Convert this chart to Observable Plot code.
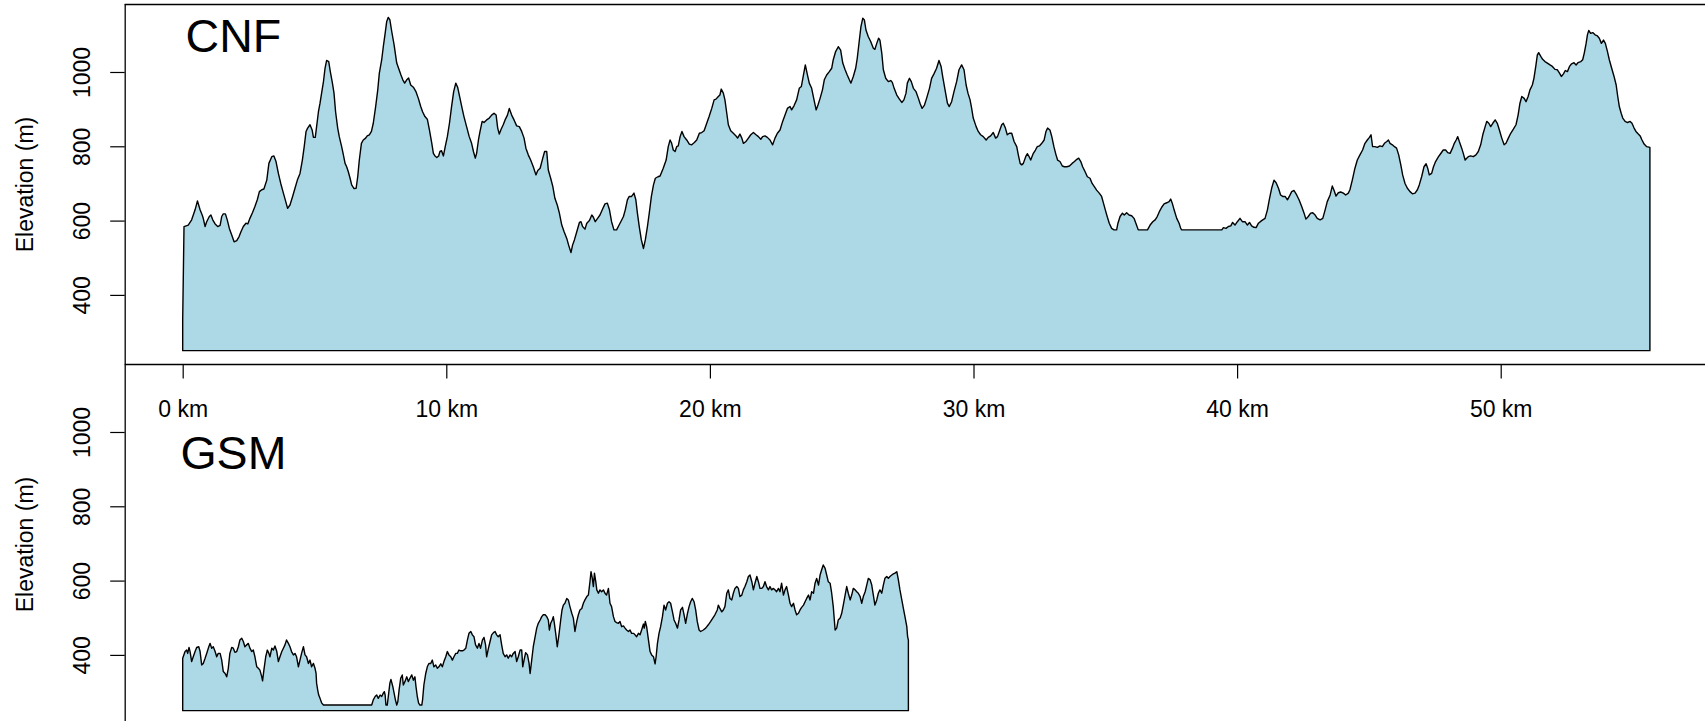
<!DOCTYPE html>
<html>
<head>
<meta charset="utf-8">
<script src="https://cdn.jsdelivr.net/npm/d3@7"></script>
<script src="https://cdn.jsdelivr.net/npm/@observablehq/plot@0.6"></script>
<style>
  html, body { margin: 0; padding: 0; background: #fff; overflow: hidden; }
  #chart { position: relative; width: 1705px; height: 721px; overflow: hidden; }
  #chart svg { position: absolute; left: 0; top: 0; }
</style>
</head>
<body>
<div id="chart"></div>
<script>
// Elevation profiles of two routes: distance along the route (km) and elevation (m)
const cnfKm = [
  0.00,0.05,0.21,0.34,0.47,0.56,0.66,0.75,0.78,0.85,0.91,1.01,1.07,1.14,1.23,1.33,1.42,1.48,1.54,1.62,
  1.69,1.77,1.86,1.95,2.05,2.14,2.21,2.30,2.40,2.47,2.55,2.65,2.74,2.83,2.91,3.00,3.08,3.19,3.27,3.38,
  3.46,3.54,3.63,3.72,3.82,3.91,3.98,4.07,4.17,4.26,4.35,4.45,4.54,4.61,4.68,4.74,4.83,4.91,4.96,5.03,
  5.08,5.15,5.21,5.27,5.34,5.40,5.46,5.54,5.60,5.68,5.74,5.80,5.88,5.94,6.03,6.09,6.16,6.22,6.28,6.35,
  6.41,6.50,6.58,6.64,6.70,6.78,6.85,6.94,7.00,7.08,7.16,7.23,7.32,7.40,7.46,7.55,7.61,7.68,7.74,7.80,
  7.86,7.93,8.02,8.12,8.21,8.28,8.35,8.42,8.50,8.57,8.65,8.75,8.85,8.94,9.03,9.10,9.19,9.28,9.36,9.45,
  9.51,9.57,9.64,9.71,9.76,9.82,9.89,9.96,10.04,10.12,10.20,10.28,10.36,10.43,10.52,10.60,10.67,10.77,10.87,10.96,
  11.03,11.10,11.15,11.22,11.28,11.36,11.43,11.53,11.63,11.72,11.81,11.89,11.95,12.01,12.08,12.16,12.23,12.32,12.39,12.48,
  12.57,12.67,12.77,12.86,12.95,13.02,13.11,13.20,13.30,13.40,13.47,13.56,13.66,13.73,13.81,13.87,13.96,14.04,14.12,14.21,
  14.29,14.38,14.47,14.57,14.64,14.73,14.79,14.86,14.95,15.05,15.11,15.17,15.26,15.33,15.43,15.52,15.58,15.65,15.74,15.83,
  15.93,16.02,16.11,16.19,16.27,16.36,16.46,16.54,16.62,16.72,16.79,16.87,16.94,17.03,17.12,17.19,17.25,17.32,17.40,17.48,
  17.55,17.63,17.70,17.78,17.86,17.93,18.03,18.11,18.23,18.34,18.42,18.49,18.55,18.61,18.68,18.74,18.80,18.87,18.94,19.02,
  19.12,19.22,19.31,19.41,19.50,19.60,19.69,19.78,19.88,19.97,20.07,20.16,20.23,20.32,20.38,20.43,20.51,20.57,20.64,20.70,
  20.79,20.89,20.99,21.05,21.14,21.21,21.27,21.37,21.46,21.55,21.65,21.75,21.84,21.93,22.00,22.09,22.18,22.28,22.38,22.47,
  22.56,22.66,22.76,22.85,22.94,23.04,23.10,23.19,23.29,23.39,23.47,23.55,23.62,23.70,23.77,23.86,23.95,24.03,24.10,24.18,
  24.27,24.34,24.43,24.53,24.62,24.68,24.77,24.87,24.96,25.04,25.13,25.21,25.29,25.35,25.44,25.53,25.59,25.67,25.73,25.80,
  25.86,25.92,26.01,26.10,26.20,26.26,26.33,26.40,26.45,26.52,26.58,26.67,26.77,26.86,26.92,26.99,27.09,27.19,27.28,27.36,
  27.44,27.49,27.57,27.64,27.72,27.82,27.91,27.97,28.05,28.14,28.22,28.33,28.41,28.50,28.60,28.69,28.77,28.83,28.92,29.01,
  29.08,29.17,29.26,29.36,29.45,29.55,29.64,29.72,29.79,29.87,29.93,29.99,30.10,30.18,30.27,30.37,30.48,30.56,30.65,30.75,
  30.84,30.91,30.98,31.07,31.13,31.21,31.28,31.36,31.45,31.54,31.64,31.70,31.77,31.83,31.89,31.98,32.04,32.11,32.17,32.27,
  32.35,32.42,32.50,32.59,32.68,32.75,32.81,32.90,32.97,33.05,33.13,33.19,33.28,33.37,33.45,33.54,33.64,33.74,33.83,33.92,
  33.99,34.07,34.14,34.23,34.32,34.42,34.50,34.59,34.67,34.77,34.86,34.93,35.00,35.08,35.15,35.24,35.33,35.43,35.48,35.56,
  35.65,35.72,35.81,35.90,36.00,36.09,36.17,36.25,36.51,36.60,36.70,36.80,36.89,36.97,37.05,37.14,37.23,37.33,37.42,37.48,
  37.54,37.61,37.71,37.80,37.86,37.90,39.42,39.48,39.58,39.67,39.76,39.83,39.92,40.01,40.11,40.20,40.30,40.39,40.47,40.55,
  40.64,40.72,40.81,40.93,41.06,41.15,41.22,41.31,41.40,41.48,41.57,41.65,41.73,41.82,41.91,41.98,42.07,42.16,42.26,42.35,
  42.45,42.54,42.61,42.70,42.79,42.87,42.96,43.04,43.15,43.25,43.34,43.42,43.53,43.61,43.68,43.75,43.84,43.93,44.03,44.12,
  44.22,44.28,44.37,44.47,44.56,44.66,44.76,44.85,44.94,45.02,45.08,45.14,45.23,45.32,45.42,45.51,45.59,45.68,45.74,45.80,
  45.89,45.97,46.05,46.13,46.21,46.28,46.37,46.46,46.56,46.65,46.75,46.84,46.91,47.00,47.09,47.17,47.23,47.29,47.38,47.45,
  47.53,47.64,47.72,47.82,47.91,47.99,48.08,48.17,48.24,48.31,48.37,48.43,48.52,48.58,48.65,48.71,48.77,48.86,48.96,49.06,
  49.15,49.24,49.32,49.41,49.47,49.55,49.62,49.70,49.79,49.87,49.95,50.04,50.13,50.20,50.29,50.38,50.48,50.58,50.66,50.73,
  50.80,50.89,50.96,51.04,51.11,51.20,51.26,51.33,51.39,51.44,51.52,51.59,51.68,51.77,51.87,51.96,52.06,52.15,52.23,52.30,
  52.38,52.45,52.53,52.61,52.69,52.78,52.86,52.93,53.04,53.11,53.17,53.24,53.29,53.34,53.41,53.49,53.58,53.67,53.74,53.82,
  53.90,53.97,54.05,54.12,54.21,54.30,54.38,54.44,54.50,54.57,54.63,54.72,54.81,54.91,54.98,55.06,55.13,55.22,55.29,55.36,
  55.44,55.54,55.66
];
const cnfElev = [
  333,584,588,602,629,653,629,613,606,584,597,611,615,602,591,584,587,611,618,618,
  602,579,561,543,546,557,570,584,593,591,606,622,638,656,678,683,685,709,754,772,
  774,759,727,700,674,651,633,642,665,687,709,727,763,799,840,849,858,844,824,824,
  853,893,916,943,974,1010,1031,1028,1001,970,943,893,849,826,799,779,754,745,732,714,
  696,686,687,718,763,808,817,822,828,831,840,862,907,952,997,1033,1068,1104,1136,1147,
  1140,1109,1073,1024,1006,992,979,970,979,984,965,959,947,929,907,893,880,873,844,808,
  781,774,770,774,786,788,774,799,826,862,907,947,970,959,929,902,880,853,826,808,
  786,768,781,817,840,867,864,871,876,884,889,884,849,833,846,858,871,884,902,884,
  871,855,853,840,822,795,777,763,745,723,735,741,768,786,786,736,714,692,660,642,
  620,588,570,552,534,514,534,548,570,595,597,584,577,593,600,615,609,597,606,615,
  631,645,647,629,597,575,575,586,597,611,629,656,665,665,674,656,620,584,548,525,
  548,584,620,665,696,714,718,720,741,763,799,817,808,790,786,799,801,826,840,826,
  817,806,804,810,817,835,837,842,862,880,902,925,927,934,938,954,943,925,889,858,
  842,835,828,822,833,822,808,813,822,831,837,831,826,819,826,828,824,817,804,822,
  835,844,867,884,902,907,898,909,925,956,961,992,1019,992,970,956,925,898,911,929,
  952,979,992,1001,1010,1033,1055,1068,1059,1024,1006,992,979,970,988,1010,1037,1086,1122,1145,
  1140,1113,1095,1082,1064,1061,1077,1091,1086,1051,1006,983,974,977,972,956,938,927,918,925,
  943,970,983,974,956,947,929,916,902,911,929,956,983,995,1010,1031,1015,988,952,916,
  907,920,947,974,1006,1019,1006,965,943,925,902,876,853,840,831,826,817,824,828,837,
  822,826,840,858,862,849,831,835,835,813,799,777,754,750,754,772,780,772,763,781,
  790,799,801,808,817,840,849,844,826,799,777,763,759,747,745,745,747,754,759,765,
  768,759,745,732,718,714,700,691,682,674,665,647,629,609,593,579,575,575,593,611,
  620,615,621,615,613,606,591,575,575,575,588,597,602,611,624,636,645,648,651,658,
  647,629,606,593,579,575,575,581,579,584,586,595,588,597,606,597,597,588,595,586,
  582,581,593,600,606,629,656,687,709,702,687,669,665,665,656,665,678,681,669,656,
  638,620,604,611,620,621,615,606,602,606,629,651,669,693,681,666,675,677,674,669,
  674,683,709,741,763,777,790,808,817,824,831,799,799,797,801,799,808,813,817,808,
  804,799,795,777,750,723,700,687,678,672,674,683,696,718,745,753,741,723,727,745,
  759,772,780,790,790,783,781,795,808,817,826,813,795,781,763,768,772,774,772,777,
  786,804,831,853,867,862,853,862,871,862,844,822,804,808,822,835,846,858,884,916,
  934,929,920,934,952,965,983,1015,1046,1052,1042,1034,1028,1024,1019,1015,1007,1006,997,988,
  995,1004,1001,1015,1022,1025,1019,1025,1028,1033,1051,1077,1100,1112,1104,1106,1100,1097,1091,1077,
  1086,1077,1055,1033,1010,988,965,934,907,889,876,867,864,867,862,849,840,833,828,817,
  806,799,797
];
const gsmKm = [
  0.00,0.09,0.15,0.19,0.24,0.28,0.34,0.40,0.47,0.53,0.61,0.66,0.72,0.78,0.85,0.91,0.99,1.04,1.10,1.16,
  1.23,1.29,1.35,1.42,1.48,1.54,1.61,1.67,1.73,1.79,1.86,1.92,1.98,2.05,2.11,2.17,2.24,2.30,2.36,2.43,
  2.49,2.55,2.62,2.68,2.74,2.81,2.87,2.93,3.00,3.03,3.08,3.15,3.21,3.27,3.31,3.38,3.44,3.50,3.57,3.63,
  3.69,3.76,3.82,3.88,3.94,4.01,4.07,4.13,4.20,4.26,4.32,4.39,4.45,4.51,4.58,4.64,4.70,4.77,4.83,4.89,
  4.96,5.02,5.06,5.08,5.12,5.16,5.21,5.27,5.34,7.17,7.23,7.30,7.36,7.42,7.49,7.55,7.61,7.65,7.68,7.71,
  7.76,7.80,7.86,7.90,7.97,8.02,8.07,8.12,8.16,8.21,8.27,8.33,8.37,8.43,8.50,8.56,8.62,8.69,8.75,8.81,
  8.85,8.90,8.95,9.00,9.07,9.10,9.15,9.22,9.28,9.34,9.41,9.47,9.53,9.60,9.66,9.72,9.79,9.85,9.91,9.98,
  10.04,10.10,10.17,10.23,10.29,10.36,10.42,10.48,10.55,10.61,10.67,10.74,10.80,10.86,10.93,10.99,11.05,11.11,11.18,11.24,
  11.30,11.37,11.43,11.49,11.53,11.60,11.66,11.72,11.79,11.85,11.91,11.97,12.04,12.10,12.16,12.23,12.29,12.35,12.42,12.48,
  12.54,12.61,12.67,12.73,12.80,12.86,12.90,12.95,13.01,13.08,13.14,13.18,13.24,13.30,13.37,13.43,13.49,13.56,13.62,13.68,
  13.75,13.81,13.87,13.91,13.96,14.02,14.06,14.10,14.15,14.21,14.28,14.34,14.39,14.44,14.50,14.57,14.63,14.69,14.76,14.82,
  14.88,14.95,15.01,15.07,15.14,15.20,15.26,15.33,15.39,15.45,15.49,15.54,15.58,15.62,15.67,15.71,15.77,15.83,15.89,15.96,
  16.02,16.08,16.15,16.21,16.27,16.34,16.40,16.46,16.53,16.59,16.65,16.72,16.78,16.84,16.91,16.97,17.03,17.10,17.16,17.22,
  17.29,17.35,17.41,17.48,17.51,17.55,17.60,17.67,17.73,17.79,17.86,17.92,17.96,18.01,18.07,18.13,18.20,18.26,18.32,18.39,
  18.45,18.51,18.58,18.64,18.70,18.77,18.83,18.89,18.96,19.02,19.08,19.15,19.21,19.27,19.33,19.40,19.46,19.52,19.59,19.65,
  19.75,19.84,19.94,20.03,20.11,20.19,20.28,20.32,20.38,20.45,20.51,20.57,20.64,20.70,20.76,20.83,20.89,20.95,21.02,21.08,
  21.14,21.21,21.27,21.33,21.40,21.46,21.52,21.59,21.65,21.71,21.78,21.84,21.90,21.97,22.03,22.09,22.15,22.22,22.28,22.34,
  22.41,22.47,22.53,22.60,22.66,22.72,22.79,22.85,22.91,22.98,23.04,23.10,23.17,23.23,23.29,23.36,23.42,23.48,23.55,23.61,
  23.67,23.74,23.80,23.86,23.93,23.99,24.05,24.12,24.18,24.24,24.30,24.37,24.43,24.49,24.56,24.62,24.68,24.75,24.81,24.87,
  24.94,25.00,25.06,25.13,25.19,25.25,25.32,25.38,25.44,25.51,25.57,25.63,25.70,25.76,25.82,25.89,25.95,26.01,26.08,26.14,
  26.20,26.26,26.33,26.39,26.45,26.52,26.58,26.64,26.71,26.77,26.83,26.90,26.96,27.02,27.09,27.15,27.21,27.28,27.34,27.40,
  27.47,27.50,27.53
];
const gsmElev = [
  391,409,413,404,420,409,382,395,409,420,422,409,373,377,391,404,422,431,418,422,
  409,395,404,404,386,355,350,341,364,404,420,418,407,409,422,440,445,436,422,427,
  431,418,409,413,395,368,364,359,341,330,359,395,413,404,395,418,413,424,409,382,
  395,409,418,427,440,431,422,409,400,404,395,368,386,404,422,400,395,377,386,368,
  377,364,350,324,306,292,283,271,265,265,279,288,292,283,292,288,297,301,292,265,
  265,288,324,334,315,297,279,265,274,306,337,346,319,328,341,328,337,346,332,341,
  315,288,270,265,265,279,319,350,368,377,377,386,368,373,364,368,376,368,382,395,
  409,400,395,386,395,404,404,413,411,411,413,418,440,458,463,454,449,427,418,431,
  418,440,447,427,395,418,436,454,460,463,454,449,454,427,404,395,400,391,400,395,
  404,409,382,395,413,413,368,386,406,400,377,350,386,422,449,472,485,494,503,508,
  508,503,494,467,485,494,503,485,458,422,458,494,521,534,539,552,548,530,512,499,
  463,490,508,521,525,539,548,557,561,597,624,606,584,620,597,575,566,575,570,575,
  566,561,579,539,530,503,490,487,485,490,476,478,472,467,463,467,458,458,454,449,
  458,454,467,483,472,490,476,440,409,400,395,376,395,431,458,476,503,534,521,539,
  543,539,516,494,485,472,494,521,528,508,485,512,530,543,552,543,521,490,467,463,
  467,472,481,490,499,508,521,534,525,516,521,530,566,575,552,548,566,579,584,579,
  557,561,575,584,597,611,615,597,575,593,611,597,579,579,584,597,584,575,584,575,
  579,575,570,579,570,593,561,575,584,561,539,530,539,521,508,512,521,528,534,543,
  552,561,548,570,566,593,606,588,615,629,642,633,615,597,593,566,530,467,472,494,
  499,512,534,561,584,566,548,561,579,575,570,566,557,539,557,570,588,606,602,588,
  561,534,548,566,575,566,588,606,611,606,611,615,618,620,624,602,575,548,525,503,
  476,449,440
];
const kmTicks = [0, 10, 20, 30, 40, 50];
const elevTicks = [400, 600, 800, 1000];
const routeNames = ["CNF", "GSM"];
const baseElev = 250;   // floor of the filled profile

// shared scales for both panels
const xDomain = [-2.2, 57.75];
const yDomain = [214, 1183];
const WIDTH = 1705;
const M_LEFT = 124.7;
const PANEL_H = 360;
const FONT = "'Liberation Sans', Arial, Helvetica, sans-serif";
const FILL = "#ADD8E6";

const rows = (km, elev) => km.map((k, i) => ({km: k, elev: elev[i]}));

function profilePanel(data, name, {top, height, withKmAxis, withTopRule, titleDy}) {
  const marks = [
    Plot.areaY(data, {x: "km", y1: baseElev, y2: "elev", fill: FILL, stroke: "black", strokeWidth: 1.4}),
    Plot.ruleX([xDomain[0]], {stroke: "black", strokeWidth: 1.3}),
    Plot.ruleY([yDomain[0]], {stroke: "black", strokeWidth: 1.3}),
    Plot.axisY(elevTicks, {anchor: "left", tickSize: 14.5, tickFormat: () => "", label: null, strokeWidth: 1.2}),
    Plot.text(elevTicks, {y: d => d, text: d => String(d), frameAnchor: "left", rotate: -90, dx: -43,
      textAnchor: "middle", lineAnchor: "middle", fontSize: 23}),
    Plot.text(["Elevation (m)"], {text: d => d, frameAnchor: "left", rotate: -90, dx: -100,
      textAnchor: "middle", lineAnchor: "middle", fontSize: 23}),
    Plot.text([name], {text: d => d, frameAnchor: "top-left", dx: 108.2, dy: titleDy,
      textAnchor: "middle", lineAnchor: "top", fontSize: 46.5})
  ];
  if (withTopRule) marks.push(Plot.ruleY([yDomain[1]], {stroke: "black", strokeWidth: 1.3}));
  if (withKmAxis) marks.push(Plot.axisX(kmTicks, {anchor: "bottom", tickSize: 14.5, tickPadding: 22,
    tickFormat: d => `${d} km`, fontSize: 23, label: null, strokeWidth: 1.2}));
  return Plot.plot({
    width: WIDTH,
    height,
    marginLeft: M_LEFT,
    marginRight: 0,
    marginTop: top,
    marginBottom: height - top - PANEL_H,
    x: {domain: xDomain, axis: null},
    y: {domain: yDomain, axis: null},
    style: {background: "transparent", fontFamily: FONT, color: "black", overflow: "visible"},
    marks
  });
}

const chart = document.getElementById("chart");
chart.append(profilePanel(rows(gsmKm, gsmElev), routeNames[1],
  {top: 364, height: 724, withKmAxis: false, withTopRule: false, titleDy: 71.3}));
chart.append(profilePanel(rows(cnfKm, cnfElev), routeNames[0],
  {top: 4, height: 440, withKmAxis: true, withTopRule: true, titleDy: 14.7}));
</script>
</body>
</html>
